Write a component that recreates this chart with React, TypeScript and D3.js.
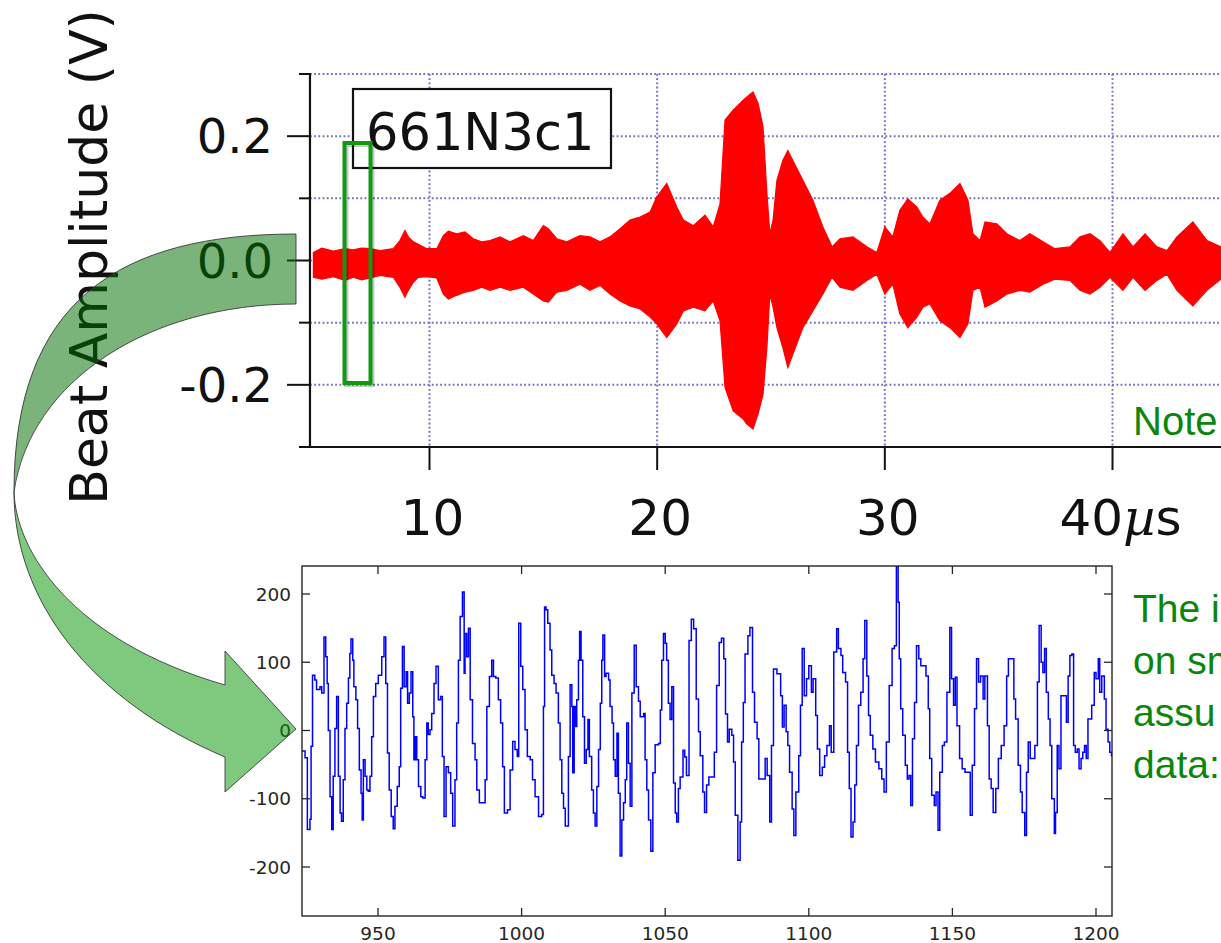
import React from 'react';
import * as d3 from 'd3';

// ---------- Top chart (red beat envelope) ----------
const RED_T = [4.9, 5.27, 5.78, 6.29, 6.65, 7.02, 7.39, 7.83, 8.41, 8.7,
  8.92, 9.07, 9.29, 9.51, 9.88, 10.32, 10.61, 10.83, 11.19, 11.56,
  11.92, 12.29, 12.66, 13.1, 13.54, 14.12, 14.56, 15.0, 15.22, 15.59,
  16.03, 16.61, 17.05, 17.49, 17.93, 18.37, 18.81, 19.25, 19.69, 19.98,
  20.42, 20.86, 21.15, 21.59, 22.1, 22.46, 22.76, 22.98, 23.34, 23.78,
  23.94, 24.21, 24.43, 24.65, 24.82, 24.95, 25.09, 25.26, 25.52, 25.74,
  25.96, 26.4, 26.84, 27.28, 27.68, 28.03, 28.6, 29.21, 29.65, 30.0,
  30.35, 30.66, 31.01, 31.41, 31.67, 31.98, 32.42, 32.86, 33.3, 33.65,
  33.87, 34.18, 34.4, 34.92, 35.36, 35.93, 36.37, 36.95, 37.47, 38.13,
  38.57, 39.01, 39.45, 39.89, 40.46, 40.9, 41.43, 41.95, 42.39, 42.83,
  43.53, 44.15, 44.76, 45.2];
const RED_UP = [0.013, 0.020, 0.015, 0.019, 0.017, 0.020, 0.019, 0.016, 0.019, 0.032,
  0.048, 0.038, 0.030, 0.026, 0.019, 0.019, 0.040, 0.047, 0.043, 0.046,
  0.035, 0.030, 0.032, 0.038, 0.030, 0.040, 0.032, 0.056, 0.051, 0.035,
  0.030, 0.040, 0.038, 0.030, 0.038, 0.051, 0.065, 0.070, 0.078, 0.102,
  0.124, 0.086, 0.065, 0.056, 0.073, 0.054, 0.091, 0.226, 0.242, 0.258,
  0.263, 0.271, 0.253, 0.215, 0.108, 0.043, 0.065, 0.129, 0.161, 0.177,
  0.161, 0.129, 0.097, 0.054, 0.022, 0.035, 0.038, 0.022, 0.013, 0.054,
  0.038, 0.081, 0.099, 0.086, 0.070, 0.059, 0.097, 0.108, 0.124, 0.097,
  0.043, 0.032, 0.062, 0.059, 0.043, 0.032, 0.043, 0.030, 0.019, 0.022,
  0.038, 0.043, 0.032, 0.013, 0.043, 0.022, 0.043, 0.022, 0.016, 0.038,
  0.062, 0.032, 0.022, 0.020];
const RED_LO = [-0.027, -0.030, -0.026, -0.032, -0.027, -0.031, -0.028, -0.024, -0.027, -0.043,
  -0.059, -0.048, -0.035, -0.027, -0.026, -0.028, -0.054, -0.062, -0.056, -0.051,
  -0.048, -0.043, -0.048, -0.043, -0.048, -0.043, -0.054, -0.065, -0.067, -0.051,
  -0.048, -0.038, -0.048, -0.040, -0.054, -0.065, -0.073, -0.078, -0.091, -0.102,
  -0.124, -0.102, -0.081, -0.075, -0.081, -0.065, -0.097, -0.204, -0.242, -0.255,
  -0.263, -0.271, -0.247, -0.215, -0.140, -0.054, -0.075, -0.108, -0.140, -0.172,
  -0.151, -0.108, -0.081, -0.054, -0.027, -0.043, -0.048, -0.032, -0.022, -0.054,
  -0.038, -0.086, -0.108, -0.091, -0.075, -0.070, -0.097, -0.108, -0.124, -0.102,
  -0.048, -0.043, -0.075, -0.065, -0.054, -0.048, -0.051, -0.038, -0.030, -0.032,
  -0.048, -0.054, -0.043, -0.027, -0.048, -0.027, -0.048, -0.032, -0.022, -0.048,
  -0.073, -0.048, -0.030, -0.030];

const TOP_Y_MAJOR = [0.2, 0, -0.2];
const TOP_Y_LABELS = ['0.2', '0.0', '-0.2'];
const TOP_Y_MINOR = [0.3, 0.1, -0.1, -0.3];
const TOP_GRID_Y = [0.3, 0.2, 0.1, 0, -0.1, -0.2];
const TOP_X_TICKS = [10, 20, 30, 40];
const TOP_X_LABELS = ['10', '20', '30', '40'];

// ---------- Bottom chart (blue zoomed samples) ----------
const BLUE_POINTS: [number, number][] = [
  [923.4, -30], [924.6, -40], [925.4, -145], [926.3, -130], [926.7, -23], [927.2, 81], [928.0, 74], [928.6, 60], [929.8, 64], [930.4, 55],
  [931.2, 137], [931.8, 108], [932.3, 69], [932.7, 0], [933.3, -97], [933.9, -145], [934.4, -67], [935.0, 3], [935.6, 50], [936.2, -67],
  [936.8, -121], [937.3, -133], [937.9, -72], [938.5, 3], [939.1, 40], [939.7, 77], [940.2, 113], [940.6, 134], [941.2, 103], [941.6, 64],
  [942.3, 45], [942.9, 3], [943.5, -58], [944.1, -92], [944.5, -131], [944.9, -43], [945.5, -67], [946.1, -87], [946.6, -89], [947.2, -67],
  [947.8, -9], [948.4, 50], [949.2, 69], [950.1, 81], [951.3, 108], [952.1, 137], [952.7, 69], [953.3, -33], [953.9, -87], [954.6, -126],
  [955.3, -144], [955.9, -111], [956.7, -82], [957.4, -53], [957.9, 62], [958.5, 123], [959.1, 64], [959.8, 86], [960.3, 40], [960.9, 55],
  [961.5, 86], [962.1, 20], [962.5, -43], [963.0, -9], [963.5, -43], [964.1, -82], [964.9, -97], [965.6, -99], [966.4, -43], [967.0, 11],
  [967.5, -6], [968.1, 1], [968.7, 25], [969.5, 69], [970.2, 94], [971.0, 45], [971.8, 50], [972.4, -38], [973.0, -126], [973.7, -53],
  [974.5, -62], [975.3, -92], [976.0, -140], [976.8, -72], [977.4, 11], [978.0, 103], [978.6, 167], [979.4, 203], [980.0, 84], [980.3, 142],
  [980.9, 108], [981.5, 150], [982.1, 45], [982.9, -19], [983.8, -43], [984.4, -87], [985.3, -106], [986.5, -106], [987.3, -72], [987.9, 35],
  [988.8, 79], [989.6, 103], [990.2, 79], [991.0, 77], [991.9, 45], [992.7, 11], [993.4, -53], [994.0, -121], [995.1, -116], [996.0, -58],
  [996.9, -16], [997.7, -28], [998.5, -38], [999.0, 157], [999.7, 94], [1000.4, 60], [1001.2, 1], [1002.0, -38], [1003.0, -43], [1003.8, -72],
  [1004.7, -97], [1005.9, -126], [1007.0, -123], [1007.6, 35], [1008.0, 181], [1008.5, 177], [1009.1, 157], [1009.9, 118], [1010.5, 81], [1011.3, 69],
  [1012.0, 55], [1012.8, 11], [1013.4, -43], [1014.0, -92], [1014.6, -114], [1015.2, -140], [1016.3, -38], [1016.9, 67], [1017.5, 35], [1017.8, -62],
  [1018.3, 35], [1018.8, 6], [1019.2, 45], [1019.8, 103], [1020.2, 145], [1020.7, 103], [1021.3, 20], [1021.9, -48], [1022.5, -28], [1023.1, 16],
  [1023.6, -38], [1024.4, -87], [1025.0, -121], [1025.6, -140], [1026.2, -82], [1026.8, -28], [1027.4, 40], [1027.9, 103], [1028.3, 140], [1028.9, 79],
  [1029.4, 84], [1030.3, 74], [1030.8, 35], [1031.5, 11], [1032.0, -43], [1032.6, -67], [1033.2, -4], [1033.7, -92], [1034.3, -184], [1034.9, -131],
  [1035.5, -106], [1036.1, -72], [1036.6, 11], [1037.2, -48], [1037.8, -111], [1038.4, 55], [1039.2, 125], [1039.9, 64], [1040.7, 43], [1041.3, 20],
  [1042.5, 25], [1043.0, -43], [1043.6, -87], [1044.2, -131], [1045.0, -177], [1045.7, -62], [1046.5, -21], [1047.7, -19], [1048.3, 30], [1048.8, 103],
  [1049.4, 142], [1050.0, 128], [1050.5, 103], [1051.1, 40], [1051.7, 16], [1052.3, 64], [1052.9, -77], [1053.5, -121], [1054.0, -134], [1054.6, -85],
  [1055.2, -68], [1056.2, -29], [1056.8, -39], [1057.4, -66], [1058.3, 132], [1059.1, 163], [1059.9, 149], [1060.8, 46], [1061.6, -2], [1062.2, -37],
  [1063.1, -90], [1063.7, -120], [1064.4, -80], [1065.2, -68], [1066.2, -68], [1067.1, -32], [1067.9, 66], [1068.8, 129], [1069.6, 135], [1070.4, 105],
  [1071.0, 24], [1071.7, -17], [1072.3, 2], [1073.2, -7], [1073.8, -46], [1074.4, -124], [1075.3, -190], [1076.1, -134], [1076.6, -17], [1077.2, 41],
  [1077.8, 112], [1078.8, 139], [1079.5, 151], [1080.4, 56], [1081.1, 12], [1082.0, -12], [1082.6, -71], [1083.9, -71], [1084.8, -41], [1085.5, -66],
  [1086.4, -134], [1087.0, -22], [1087.7, 90], [1088.9, 83], [1090.2, 51], [1090.8, 5], [1091.4, 37], [1092.1, -2], [1092.7, -22], [1093.3, -61],
  [1094.2, -115], [1094.8, -154], [1095.5, -90], [1096.5, -37], [1097.1, 37], [1097.7, 120], [1098.4, 51], [1099.2, 76], [1100.0, 95], [1100.9, 56],
  [1101.5, 76], [1102.4, 22], [1103.0, -27], [1103.8, -66], [1104.7, -54], [1105.5, -37], [1106.3, -22], [1107.2, 7], [1107.8, -32], [1108.7, 115],
  [1109.7, 149], [1110.3, 120], [1111.2, 110], [1111.8, 85], [1112.8, 71], [1113.5, -32], [1114.1, -85], [1114.7, -156], [1115.4, -134], [1116.0, -80],
  [1116.6, -22], [1117.3, 37], [1118.1, 56], [1118.9, 105], [1119.5, 161], [1120.2, 80], [1120.8, 22], [1121.4, -7], [1122.3, -27], [1123.2, -46],
  [1124.4, -56], [1125.4, -71], [1126.2, -90], [1127.0, -17], [1128.0, 66], [1129.0, 120], [1129.8, 124], [1130.5, 241], [1131.1, 188], [1131.5, 105],
  [1132.0, 32], [1132.7, -7], [1133.6, -51], [1134.3, -71], [1134.9, -66], [1135.5, -110], [1136.1, -12], [1136.8, 41], [1137.5, 124], [1138.3, 105],
  [1139.0, 95], [1139.9, 95], [1140.8, 80], [1141.6, 32], [1142.1, -41], [1142.8, -95], [1143.7, -110], [1144.3, -90], [1145.0, -146], [1145.6, -61],
  [1146.5, -22], [1147.2, -17], [1148.1, 56], [1149.1, 151], [1149.7, 76], [1150.4, 37], [1151.0, 78], [1151.6, 7], [1152.5, -41], [1153.4, -56],
  [1154.4, -61], [1155.4, -61], [1156.2, -124], [1156.9, -51], [1157.7, 32], [1158.4, 105], [1159.1, 71], [1159.8, 80], [1160.7, 46], [1161.3, 80],
  [1162.2, 7], [1162.8, -71], [1163.5, -85], [1164.2, -120], [1165.1, -85], [1166.0, -41], [1167.0, -22], [1168.0, 7], [1168.9, 80], [1169.5, 105],
  [1170.5, 105], [1171.4, 46], [1172.0, 17], [1172.9, -51], [1173.7, -90], [1174.3, -120], [1175.2, -154], [1175.8, -61], [1176.4, -17], [1177.1, -41],
  [1178.0, -41], [1178.7, -22], [1179.6, 71], [1180.2, 154], [1180.9, 100], [1181.5, 85], [1182.1, 120], [1182.7, 56], [1183.4, 17], [1184.0, -22],
  [1184.6, -100], [1185.5, -151], [1185.9, -120], [1186.5, -22], [1187.1, -56], [1187.8, 51], [1188.7, 51], [1189.7, 12], [1190.3, 80], [1190.9, 110],
  [1191.6, 112], [1192.2, -22], [1192.8, -32], [1193.5, -27], [1194.1, -56], [1194.8, -41], [1195.4, -32], [1196.0, -22], [1196.6, -41], [1197.2, 17],
  [1197.9, 17], [1198.5, 37], [1199.4, 85], [1200.0, 76], [1200.8, 105], [1201.3, 56], [1202.0, 80], [1202.9, 46], [1203.5, 2], [1204.2, -17],
  [1204.8, -32], [1205.4, -37], [1206.0, -56]
];
const BOT_X_TICKS = [950, 1000, 1050, 1100, 1150, 1200];
const BOT_Y_TICKS = [-200, -100, 0, 100, 200];

const NOTE_TEXT = 'Note';
const SIDE_LINES = ['The i', 'on sm', 'assu', 'data:'];

export default function App() {
  // top chart scales
  const xT = d3.scaleLinear().domain([10, 40]).range([429.5, 1112.5]);
  const yT = d3.scaleLinear().domain([-0.3, 0.3]).range([447, 74]);
  const axisLeftX = xT(4.75);
  const axisBottomY = yT(-0.3);

  const idx = d3.range(RED_T.length);
  const redPath = d3.area<number>()
    .x(i => xT(RED_T[i]))
    .y0(i => yT(RED_LO[i]))
    .y1(i => yT(RED_UP[i]))(idx) || '';

  // bottom chart scales
  const xB = d3.scaleLinear().domain([950, 1200]).range([378, 1096]);
  const yB = d3.scaleLinear().domain([-200, 200]).range([867, 594]);
  const fL = 302, fR = 1112, fT = 566, fBt = 916;
  const bluePath = d3.line<[number, number]>()
    .x(d => xB(d[0]))
    .y(d => yB(d[1]))
    .curve(d3.curveStepAfter)(BLUE_POINTS) || '';

  // curved arrow (annotation shape)
  const upperBand = d3.path();
  upperBand.moveTo(296, 234);
  upperBand.bezierCurveTo(120, 234, 14, 300, 14, 492);
  upperBand.bezierCurveTo(30, 380, 150, 304, 296, 304);
  upperBand.closePath();

  const lowerBand = d3.path();
  lowerBand.moveTo(14, 492);
  lowerBand.bezierCurveTo(16, 550, 70, 640, 225, 685);
  lowerBand.lineTo(225, 651);
  lowerBand.lineTo(296, 729);
  lowerBand.lineTo(225, 792);
  lowerBand.lineTo(225, 757);
  lowerBand.bezierCurveTo(90, 700, 14, 600, 14, 492);
  lowerBand.closePath();

  const gridColor = '#6e6ecc';
  const green = '#0a870a';

  return (
    <svg width={1221} height={943} style={{ position: 'absolute', left: 0, top: 0, display: 'block', background: '#fff' }}>
      <defs>
        <clipPath id="botClip">
          <rect x={fL} y={fT} width={fR - fL} height={fBt - fT} />
        </clipPath>
      </defs>
      <rect x={0} y={0} width={1221} height={943} fill="#fff" />

      {/* ---------- TOP CHART ---------- */}
      <g>
        {TOP_GRID_Y.map(v => (
          <line key={'gy' + v} x1={axisLeftX} x2={1221} y1={yT(v)} y2={yT(v)}
            stroke={gridColor} strokeWidth={2} strokeDasharray="1.8 2.4" />
        ))}
        {TOP_X_TICKS.map(v => (
          <line key={'gx' + v} x1={xT(v)} x2={xT(v)} y1={yT(0.3)} y2={axisBottomY}
            stroke={gridColor} strokeWidth={2} strokeDasharray="1.8 2.4" />
        ))}
        <path d={redPath} fill="#ff0000" stroke="#ff0000" strokeWidth={1.2} strokeLinejoin="miter" />

        {/* axes */}
        <line x1={axisLeftX} x2={axisLeftX} y1={73} y2={axisBottomY + 1} stroke="#111" strokeWidth={2.2} />
        <line x1={axisLeftX - 1} x2={1221} y1={axisBottomY} y2={axisBottomY} stroke="#111" strokeWidth={2.2} />
        {TOP_Y_MAJOR.map(v => (
          <line key={'ty' + v} x1={axisLeftX - 23} x2={axisLeftX} y1={yT(v)} y2={yT(v)} stroke="#111" strokeWidth={2} />
        ))}
        {TOP_Y_MINOR.map(v => (
          <line key={'tm' + v} x1={axisLeftX - 11} x2={axisLeftX} y1={yT(v)} y2={yT(v)} stroke="#111" strokeWidth={2} />
        ))}
        {TOP_X_TICKS.map(v => (
          <line key={'tx' + v} x1={xT(v)} x2={xT(v)} y1={axisBottomY} y2={axisBottomY + 23} stroke="#111" strokeWidth={2} />
        ))}
        {TOP_Y_MAJOR.map((v, i) => (
          <text key={'tyl' + v} x={273} y={yT(v)} dy="0.36em" textAnchor="end"
            fontFamily="DejaVu Sans, sans-serif" fontSize={48} fill="#111">{TOP_Y_LABELS[i]}</text>
        ))}
        {TOP_X_TICKS.map((v, i) => (
          i < TOP_X_TICKS.length - 1 ? (
            <text key={'txl' + v} x={xT(v) + 3} y={535} textAnchor="middle"
              fontFamily="DejaVu Sans, sans-serif" fontSize={50} fill="#111">{TOP_X_LABELS[i]}</text>
          ) : (
            <text key={'txl' + v} x={xT(v) + 8} y={535} textAnchor="middle"
              fontFamily="DejaVu Sans, sans-serif" fontSize={50} fill="#111">
              {TOP_X_LABELS[i]}<tspan fontStyle="italic" fontFamily="DejaVu Serif, serif">µ</tspan><tspan>s</tspan>
            </text>
          )
        ))}

        {/* sample id box */}
        <rect x={353} y={89} width={258} height={79} fill="#fff" stroke="#111" strokeWidth={2.2} />
        <text x={366} y={150} fontFamily="DejaVu Sans, sans-serif" fontSize={51} fill="#111">661N3c1</text>

        {/* green selection rectangle */}
        <rect x={346.5} y={145} width={26} height={240} fill="none" stroke="rgba(0,0,0,0.22)" strokeWidth={4} />
        <rect x={344.5} y={143} width={26} height={240} fill="none" stroke="#139813" strokeWidth={4} />

        {/* y title */}
        <text transform="translate(107,257) rotate(-90)" textAnchor="middle"
          fontFamily="DejaVu Sans, sans-serif" fontSize={52} fill="#111">Beat Amplitude (V)</text>

        <text x={1133} y={435} fontFamily="Liberation Sans, Arial, sans-serif" fontSize={40} fill={green}>{NOTE_TEXT}</text>
      </g>

      {/* ---------- BOTTOM CHART ---------- */}
      <g>
        <path d={bluePath} fill="none" stroke="#0000ff" strokeWidth={1.5} clipPath="url(#botClip)" />
        <rect x={fL} y={fT} width={fR - fL} height={fBt - fT} fill="none" stroke="#262626" strokeWidth={1.4} />
        {BOT_X_TICKS.map(v => (
          <g key={'bx' + v}>
            <line x1={xB(v)} x2={xB(v)} y1={fBt} y2={fBt - 8} stroke="#262626" strokeWidth={1.3} />
            <line x1={xB(v)} x2={xB(v)} y1={fT} y2={fT + 8} stroke="#262626" strokeWidth={1.3} />
            <text x={xB(v)} y={940} textAnchor="middle" fontFamily="DejaVu Sans, sans-serif"
              fontSize={18.5} fill="#262626">{v}</text>
          </g>
        ))}
        {BOT_Y_TICKS.map(v => (
          <g key={'by' + v}>
            <line x1={fL} x2={fL + 8} y1={yB(v)} y2={yB(v)} stroke="#262626" strokeWidth={1.3} />
            <line x1={fR} x2={fR - 8} y1={yB(v)} y2={yB(v)} stroke="#262626" strokeWidth={1.3} />
            <text x={291} y={yB(v)} dy="0.36em" textAnchor="end" fontFamily="DejaVu Sans, sans-serif"
              fontSize={18.5} fill="#262626">{v}</text>
          </g>
        ))}
      </g>

      {SIDE_LINES.map((s, i) => (
        <text key={s} x={1133} y={622 + i * 52} fontFamily="Liberation Sans, Arial, sans-serif"
          fontSize={39} fill={green}>{s}</text>
      ))}

      {/* ---------- curved arrow ---------- */}
      <path d={upperBand.toString()} fill="rgb(0,112,0)" fillOpacity={0.52} stroke="#333" strokeOpacity={0.85} strokeWidth={1} />
      <path d={lowerBand.toString()} fill="rgb(0,148,0)" fillOpacity={0.5} stroke="#333" strokeOpacity={0.85} strokeWidth={1} />
    </svg>
  );
}
